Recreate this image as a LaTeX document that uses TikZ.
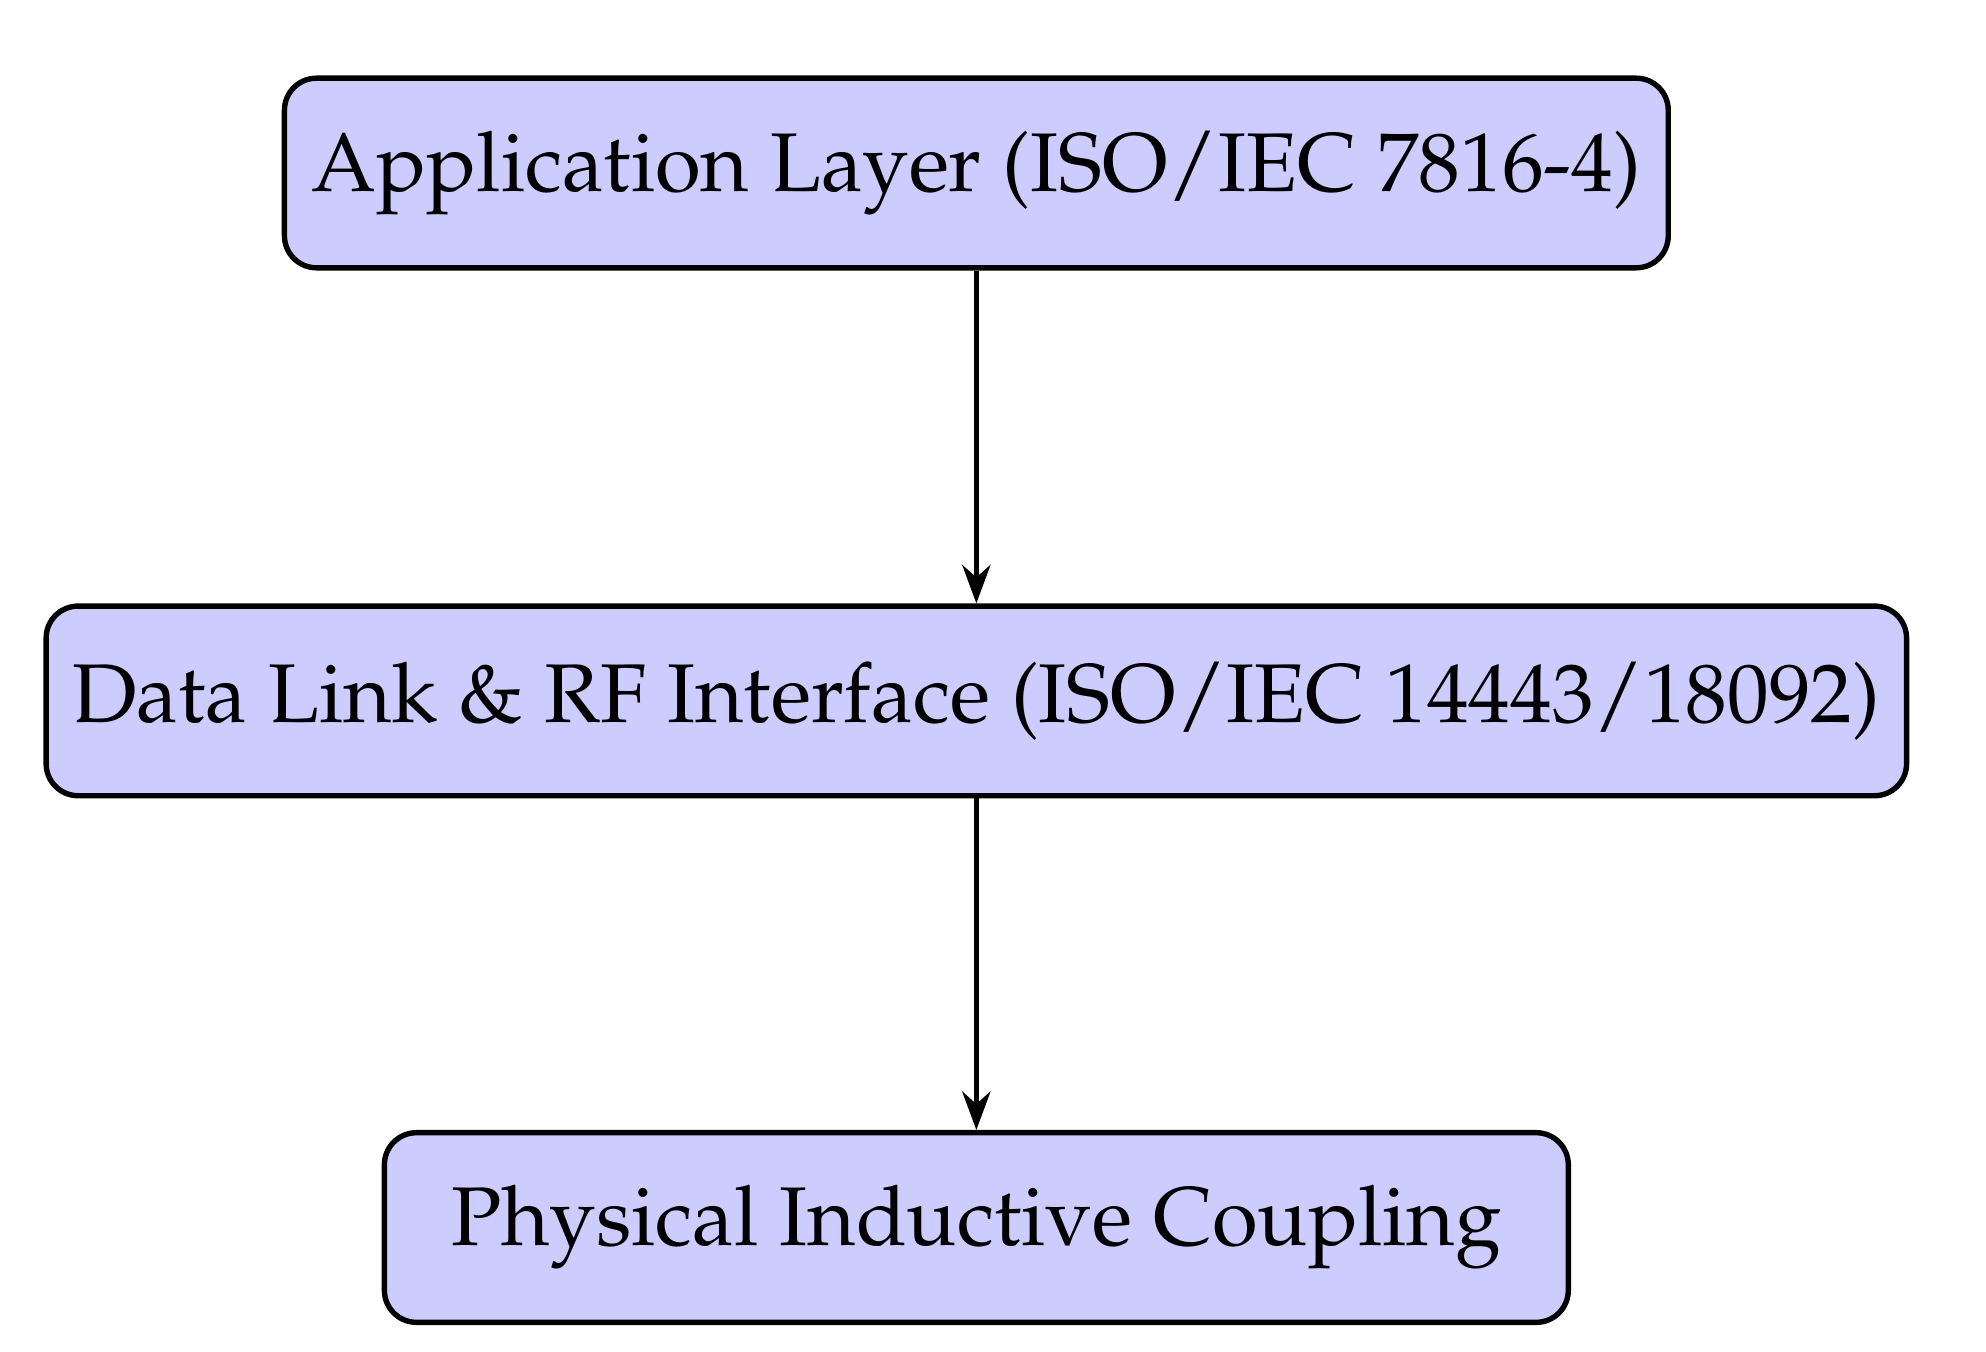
\documentclass[tikz,border=0pt]{standalone}
\usepackage[T1]{fontenc}
\usepackage{mathpazo}
\usetikzlibrary{arrows.meta}

\begin{document}
\begin{tikzpicture}
      [ layer/.style =
        { draw, line width = 1.2pt, rounded corners = .25cm, fill = blue!20
        , minimum height = 1.48cm, inner sep = 0pt
        , font = \fontsize{18.5}{22}\selectfont }
      , link/.style =
        { line width = 1.2pt, -{Stealth[length=.3cm,width=.22cm]} }
      ]
      \useasboundingbox (0, 0) rectangle (15.5, -10.55);
      \node [layer, minimum width = 10.8cm] (app) at (7.62, -1.35)
        {Application Layer (ISO/IEC 7816-4)};
      \node [layer, minimum width = 14.52cm] (rf) at (7.62, -5.47)
        {Data Link \& RF Interface (ISO/IEC 14443/18092)};
      \node [layer, minimum width = 9.24cm] (phy) at (7.62, -9.58)
        {Physical Inductive Coupling};
      \draw [link] (app) to (rf);
      \draw [link] (rf) to (phy);
    \end{tikzpicture}
\end{document}
